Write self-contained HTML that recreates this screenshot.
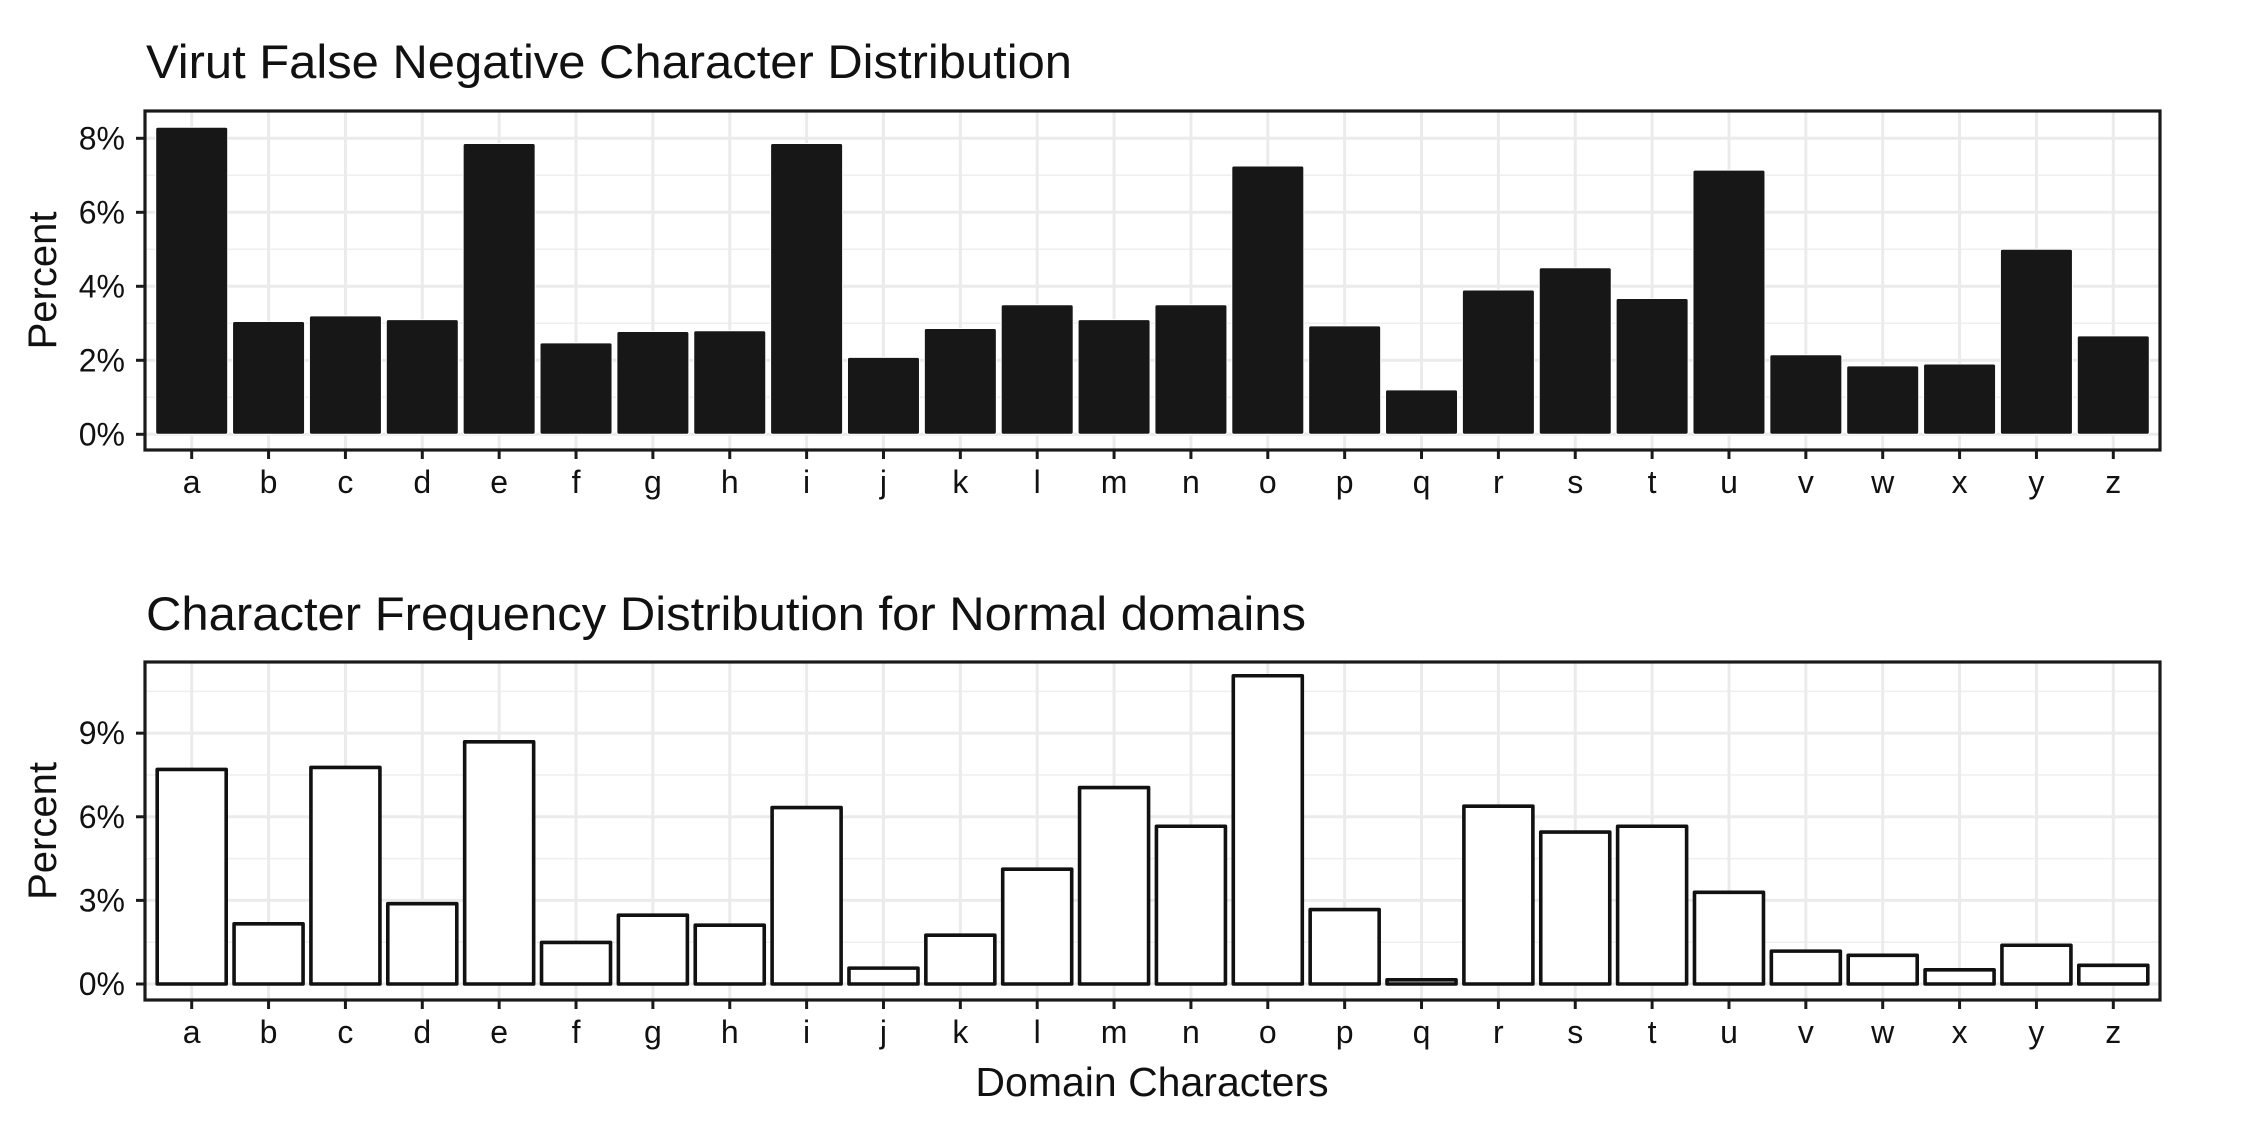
<!DOCTYPE html>
<html><head><meta charset="utf-8"><style>
html,body{margin:0;padding:0;background:#fff;}
svg{display:block;font-family:"Liberation Sans",Arial,sans-serif;}
</style></head><body>
<svg id="chart" width="2244" height="1136" viewBox="0 0 2244 1136">
<text x="146" y="78" font-size="47" fill="#111" textLength="926" lengthAdjust="spacingAndGlyphs">Virut False Negative Character Distribution</text>
<text x="146" y="630" font-size="47" fill="#111" textLength="1160" lengthAdjust="spacingAndGlyphs">Character Frequency Distribution for Normal domains</text>
<g id="top"></g>
<g id="bot"></g>
<text x="1152" y="1096" font-size="41" text-anchor="middle" fill="#111">Domain Characters</text>
</svg>
<script>
const categories = ["a","b","c","d","e","f","g","h","i","j","k","l","m","n","o","p","q","r","s","t","u","v","w","x","y","z"];
const virutValues = [8.3,3.05,3.2,3.1,7.86,2.47,2.78,2.8,7.86,2.08,2.86,3.5,3.1,3.5,7.25,2.93,1.2,3.9,4.5,3.67,7.14,2.15,1.85,1.9,5.0,2.66];
const normalValues = [7.7,2.16,7.77,2.88,8.69,1.49,2.47,2.11,6.33,0.57,1.75,4.12,7.05,5.66,11.06,2.67,0.15,6.38,5.45,5.66,3.29,1.18,1.03,0.51,1.39,0.67];
const topTicks = [0,2,4,6,8];
const topTickLabels = ["0%","2%","4%","6%","8%"];
const topMinor = [1,3,5,7];
const botTicks = [0,3,6,9];
const botTickLabels = ["0%","3%","6%","9%"];
const botMinor = [1.5,4.5,7.5,10.5];

const NS = "http://www.w3.org/2000/svg";
const L = 145, R = 2160;
const band = (R - L - 2*46.7) / 25;
function xPos(i){ return 191.7 + i*band; }
function mk(tag, attrs, parent){ const e = document.createElementNS(NS, tag); for (const k in attrs) e.setAttribute(k, attrs[k]); parent.appendChild(e); return e; }

function panel(g, cfg){
  const yS = v => cfg.y0 - v*cfg.per;
  const bg = mk('rect',{x:L,y:cfg.top,width:R-L,height:cfg.bottom-cfg.top,fill:'#fff'},g);
  
  
  cfg.minor.forEach(v=>{
    const l = mk('line',{x1:L,x2:R,y1:yS(v),y2:yS(v),stroke:'#efefef','stroke-width':1.5},g);
    
    
  });
  cfg.ticks.forEach(v=>{
    const l = mk('line',{x1:L,x2:R,y1:yS(v),y2:yS(v),stroke:'#ebebeb','stroke-width':3},g);
    
    
  });
  categories.forEach((c,i)=>{
    const l = mk('line',{x1:xPos(i),x2:xPos(i),y1:cfg.top,y2:cfg.bottom,stroke:'#ebebeb','stroke-width':3},g);
    
    
  });
  cfg.values.forEach((v,i)=>{
    let r;
    if (cfg.dark){
      r = mk('rect',{x:xPos(i)-36,y:yS(v),width:72,height:yS(0)-yS(v),fill:'#171717',rx:2,stroke:'#fff','stroke-width':1},g);
    } else {
      r = mk('rect',{x:xPos(i)-34.5,y:yS(v),width:69,height:yS(0)-yS(v),fill:'#fff',stroke:'#111','stroke-width':3.6,'stroke-linejoin':'round'},g);
    }
    
    
  });
  const b = mk('rect',{x:L,y:cfg.top,width:R-L,height:cfg.bottom-cfg.top,fill:'none',stroke:'#1a1a1a','stroke-width':3.2},g);
  
  
  cfg.ticks.forEach((v,i)=>{
    const t = mk('line',{x1:L-9,x2:L,y1:yS(v),y2:yS(v),stroke:'#1a1a1a','stroke-width':3},g);
    
    
    const tx = mk('text',{x:L-20,y:yS(v)+11,'font-size':32,'text-anchor':'end',fill:'#111'},g);
    tx.textContent = cfg.labels[i];
    
    
  });
  categories.forEach((c,i)=>{
    const t = mk('line',{x1:xPos(i),x2:xPos(i),y1:cfg.bottom,y2:cfg.bottom+9,stroke:'#1a1a1a','stroke-width':3},g);
    
    
    const tx = mk('text',{x:xPos(i),y:cfg.bottom+43,'font-size':32,'text-anchor':'middle',fill:'#111'},g);
    tx.textContent = c;
    
    
  });
  const cy = (cfg.top+cfg.bottom)/2;
  const yt = mk('text',{x:0,y:0,'font-size':40,'text-anchor':'middle',fill:'#111',transform:`translate(56,${cy}) rotate(-90)`},g);
  yt.textContent = 'Percent';
  
  
}
panel(document.getElementById('top'),{top:111,bottom:450,y0:434.3,per:37.0,values:virutValues,ticks:topTicks,labels:topTickLabels,minor:topMinor,dark:true});
panel(document.getElementById('bot'),{top:662,bottom:1000,y0:984,per:27.87,values:normalValues,ticks:botTicks,labels:botTickLabels,minor:botMinor,dark:false});
</script>
</body></html>
